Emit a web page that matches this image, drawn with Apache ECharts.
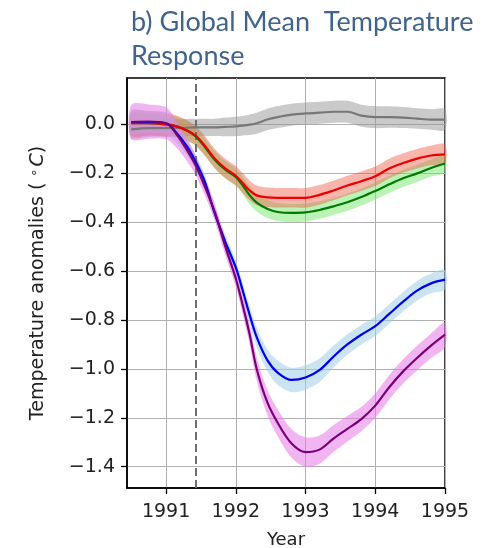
<!DOCTYPE html>
<html>
<head>
<meta charset="utf-8">
<script src="https://cdn.jsdelivr.net/npm/echarts@6/dist/echarts.min.js"></script>
<style>html,body{margin:0;padding:0;background:#fff}#c{width:487px;height:548px}</style>
</head>
<body>
<div id="c"></div>
<script>
// ---- data ----
const years = [1990.5, 1990.75, 1991.0, 1991.15, 1991.3, 1991.42, 1991.55, 1991.7, 1991.85, 1992.0, 1992.1, 1992.2, 1992.3, 1992.45, 1992.6, 1992.8, 1993.0, 1993.2, 1993.4, 1993.6, 1993.8, 1994.0, 1994.2, 1994.4, 1994.6, 1994.8, 1995.0];
const grayMean   = [-0.02, -0.015, -0.015, -0.014, -0.013, -0.012, -0.012, -0.012, -0.01, -0.008, -0.005, -0.001, 0.005, 0.02, 0.03, 0.04, 0.045, 0.048, 0.052, 0.052, 0.036, 0.03, 0.03, 0.028, 0.024, 0.02, 0.02];
const redMean    = [0.005, 0.005, 0.0, -0.008, -0.025, -0.045, -0.085, -0.14, -0.18, -0.21, -0.24, -0.27, -0.29, -0.298, -0.30, -0.30, -0.30, -0.288, -0.27, -0.25, -0.232, -0.212, -0.18, -0.158, -0.14, -0.127, -0.122];
const greenMean  = [0.005, 0.005, 0.0, -0.008, -0.025, -0.048, -0.09, -0.145, -0.185, -0.215, -0.25, -0.29, -0.32, -0.345, -0.358, -0.362, -0.36, -0.35, -0.335, -0.318, -0.297, -0.272, -0.245, -0.22, -0.2, -0.178, -0.16];
const blueMean   = [0.01, 0.01, 0.005, -0.035, -0.09, -0.15, -0.23, -0.365, -0.48, -0.585, -0.68, -0.78, -0.87, -0.963, -1.015, -1.045, -1.035, -1.005, -0.95, -0.90, -0.86, -0.825, -0.775, -0.725, -0.68, -0.65, -0.635];
const purpleMean = [0.01, 0.012, 0.005, -0.04, -0.105, -0.165, -0.25, -0.36, -0.50, -0.63, -0.74, -0.86, -1.0, -1.135, -1.22, -1.305, -1.34, -1.33, -1.285, -1.245, -1.205, -1.15, -1.075, -1.01, -0.955, -0.905, -0.86];
// half-widths of the shaded spread bands
const graySpread   = [0.035, 0.035, 0.035, 0.035, 0.035, 0.035, 0.035, 0.035, 0.038, 0.04, 0.04, 0.042, 0.043, 0.044, 0.045, 0.045, 0.045, 0.045, 0.045, 0.045, 0.045, 0.045, 0.044, 0.043, 0.042, 0.042, 0.042];
const redSpread    = [0.05, 0.05, 0.048, 0.045, 0.042, 0.04, 0.04, 0.04, 0.04, 0.04, 0.04, 0.04, 0.04, 0.04, 0.04, 0.04, 0.04, 0.04, 0.04, 0.04, 0.04, 0.04, 0.04, 0.04, 0.04, 0.04, 0.04];
const greenSpread  = [0.04, 0.04, 0.04, 0.04, 0.04, 0.038, 0.036, 0.035, 0.035, 0.035, 0.035, 0.036, 0.036, 0.037, 0.037, 0.037, 0.037, 0.036, 0.035, 0.035, 0.035, 0.035, 0.035, 0.035, 0.035, 0.035, 0.035];
const blueSpread   = [0.045, 0.045, 0.045, 0.04, 0.035, 0.03, 0.03, 0.03, 0.03, 0.03, 0.032, 0.035, 0.04, 0.045, 0.05, 0.05, 0.05, 0.048, 0.045, 0.042, 0.04, 0.04, 0.04, 0.04, 0.04, 0.04, 0.04];
const purpleSpread = [0.07, 0.07, 0.065, 0.055, 0.045, 0.04, 0.035, 0.035, 0.035, 0.035, 0.038, 0.042, 0.048, 0.052, 0.055, 0.058, 0.06, 0.058, 0.055, 0.052, 0.05, 0.05, 0.05, 0.05, 0.05, 0.05, 0.05];
const eruptionYear = 1991.42;
const xTicks = [1991, 1992, 1993, 1994, 1995];
const yTicks = [-1.4, -1.2, -1.0, -0.8, -0.6, -0.4, -0.2, 0.0];
const titleText = 'b) Global Mean  Temperature\nResponse';

// ---- build ----
const FONT = 'DejaVu Sans';
const seriesDefs = [
  {name: 'gray',   mean: grayMean,   spread: graySpread,   line: '#777777', band: 'rgba(150,150,150,0.5)'},
  {name: 'green',  mean: greenMean,  spread: greenSpread,  line: '#007a00', band: 'rgba(120,230,110,0.5)'},
  {name: 'red',    mean: redMean,    spread: redSpread,    line: '#ee0000', band: 'rgba(240,90,70,0.45)'},
  {name: 'blue',   mean: blueMean,   spread: blueSpread,   line: '#0000ee', band: 'rgba(160,205,230,0.55)'},
  {name: 'purple', mean: purpleMean, spread: purpleSpread, line: '#7a007a', band: 'rgba(230,120,230,0.55)'}
];
const SM = 0.35;
const series = [];
seriesDefs.forEach((d) => {
  series.push({
    type: 'custom', silent: true, z: 2,
    data: [[years[0], d.mean[0]]],
    renderItem: (params, api) => {
      const upper = years.map((y, k) => api.coord([y, d.mean[k] + d.spread[k]]));
      const lower = years.map((y, k) => api.coord([y, d.mean[k] - d.spread[k]])).reverse();
      return {
        type: 'polygon',
        shape: {points: upper.concat(lower), smooth: 0.3},
        style: {fill: d.band, stroke: null}
      };
    }
  });
});
seriesDefs.forEach((d, i) => {
  series.push({
    type: 'line', data: years.map((y, k) => [y, d.mean[k]]),
    symbol: 'none', smooth: SM, lineStyle: {color: d.line, width: 2.2}, z: 5,
    markLine: i === 0 ? {
      symbol: 'none', silent: true, label: {show: false},
      lineStyle: {color: '#6e6e6e', width: 2, type: [8, 4]},
      data: [{xAxis: eruptionYear}]
    } : undefined
  });
});

const chart = echarts.init(document.getElementById('c'), null, {renderer: 'canvas'});
chart.setOption({
  animation: false,
  backgroundColor: '#fff',
  title: {
    text: titleText, left: 126, top: 0,
    textStyle: {fontFamily: 'Lato', fontSize: 27, fontWeight: 'normal', color: '#41648f', lineHeight: 34}
  },
  grid: {left: 127, right: 42, top: 78, bottom: 60, containLabel: false, outerBoundsMode: 'none',
         show: true, borderColor: '#000', borderWidth: 1.5, backgroundColor: 'transparent'},
  xAxis: {
    type: 'value', min: 1990.44, max: 1995,
    name: 'Year', nameLocation: 'middle', nameGap: 43,
    nameTextStyle: {fontFamily: FONT, fontSize: 18, color: '#222'},
    axisLine: {show: true, onZero: false, lineStyle: {color: '#000', width: 1.5}},
    axisTick: {show: true, length: 6, customValues: xTicks, lineStyle: {color: '#000', width: 1.3}},
    axisLabel: {customValues: xTicks, margin: 15, fontFamily: FONT, fontSize: 19, color: '#222',
      formatter: v => (Math.abs(v - Math.round(v)) < 1e-6 ? String(Math.round(v)) : '')},
    splitLine: {show: true, lineStyle: {color: '#b0b0b0', width: 1}}
  },
  yAxis: {
    type: 'value', min: -1.487, max: 0.19,
    name: 'Temperature anomalies ( {sup|∘}{it|C})', nameLocation: 'middle', nameGap: 78, nameRotate: 90,
    nameTextStyle: {fontFamily: FONT, fontSize: 19, color: '#222',
      rich: {sup: {fontFamily: FONT, fontSize: 13, color: '#222', verticalAlign: 'top', padding: [0, 2, 8, 0]},
             it: {fontFamily: FONT, fontSize: 19, fontStyle: 'italic', color: '#222'}}},
    axisLine: {show: true, onZero: false, lineStyle: {color: '#000', width: 1.5}},
    axisTick: {show: true, length: 6, customValues: yTicks, lineStyle: {color: '#000', width: 1.3}},
    axisLabel: {customValues: yTicks, margin: 12, fontFamily: FONT, fontSize: 19, color: '#222',
      formatter: v => { const r = Math.round(v * 10) / 10; if (Math.abs(v - r) > 1e-6) return ''; return (r < 0 ? '\u2212' : '') + Math.abs(r).toFixed(1); }},
    splitLine: {show: true, lineStyle: {color: '#b0b0b0', width: 1}}
  },
  series: series
});
</script>
</body>
</html>
